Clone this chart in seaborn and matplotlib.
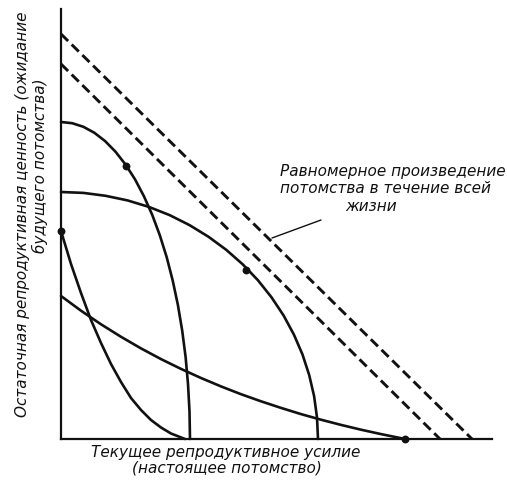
import matplotlib
matplotlib.use("Agg")
import matplotlib.pyplot as plt
import seaborn as sns
import pandas as pd

# ---- data (x = current effort, y = residual value) ----
curve_a_x = [0, 1.12, 2.24, 3.34, 4.41, 5.45, 6.45, 7.40, 8.29, 9.12, 9.88, 10.57,
             11.17, 11.69, 12.12, 12.46, 12.70, 12.85, 12.90]
curve_a_y = [31.70, 31.58, 31.22, 30.62, 29.79, 28.73, 27.45, 25.97, 24.28, 22.42,
             20.38, 18.18, 15.85, 13.40, 10.84, 8.20, 5.50, 2.76, 0]

curve_b_x = [0, 2.24, 4.46, 6.65, 8.79, 10.86, 12.85, 14.74, 16.52, 18.17, 19.69,
             21.05, 22.26, 23.29, 24.15, 24.82, 25.31, 25.60, 25.70]
curve_b_y = [24.70, 24.61, 24.32, 23.86, 23.21, 22.39, 21.39, 20.23, 18.92, 17.47,
             15.88, 14.17, 12.35, 10.44, 8.45, 6.39, 4.29, 2.15, 0]

curve_c_x = [0, 1, 2, 3, 4, 5, 6, 7, 8, 9, 10, 11, 12.4]
curve_c_y = [20.8, 17.5, 14.6, 11.9, 9.6, 7.5, 5.7, 4.1, 2.9, 1.9, 1.15, 0.55, 0]

curve_d_x = [0, 2, 4, 6, 8, 10, 12, 14, 16, 18, 20, 22, 24, 26, 28, 30, 32, 34.4]
curve_d_y = [14.30, 12.83, 11.47, 10.22, 9.06, 7.99, 7.01, 6.10, 5.26, 4.48, 3.77,
             3.11, 2.49, 1.93, 1.41, 0.93, 0.49, 0]

even_hi_x = [0, 41.1]
even_hi_y = [40.5, 0]
even_lo_x = [0, 37.9]
even_lo_y = [37.5, 0]

dots_x = [6.5, 18.5, 0, 34.4]
dots_y = [27.3, 16.9, 20.8, 0]

leader_x = [21.1, 26.0]
leader_y = [20.1, 21.9]

note_lines = ["Равномерное произведение", "потомства в течение всей", "жизни"]
xlabel_lines = ["Текущее репродуктивное усилие", "(настоящее потомство)"]
ylabel_lines = ["Остаточная репродуктивная ценность (ожидание", "будущего потомства)"]

# ---- drawing ----
sns.set_style("white")
plt.rcParams["font.family"] = ["DejaVu Sans"]
plt.rcParams["lines.scale_dashes"] = False

ink = "#111111"
fig = plt.figure(figsize=(5.07, 4.85), dpi=100)
ax = fig.add_axes([61 / 507, 45 / 485, 431 / 507, 430 / 485])

solid = [(curve_a_x, curve_a_y), (curve_b_x, curve_b_y),
         (curve_c_x, curve_c_y), (curve_d_x, curve_d_y)]
for xs, ys in solid:
    df = pd.DataFrame({"x": xs, "y": ys})
    sns.lineplot(data=df, x="x", y="y", ax=ax, color=ink, lw=1.9,
                 sort=False, estimator=None, clip_on=False)

for xs, ys in [(even_hi_x, even_hi_y), (even_lo_x, even_lo_y)]:
    df = pd.DataFrame({"x": xs, "y": ys})
    sns.lineplot(data=df, x="x", y="y", ax=ax, color=ink, lw=2.1,
                 sort=False, estimator=None, dashes=False, clip_on=False)
    ax.lines[-1].set_dashes((7.2, 3.6))

sns.scatterplot(x=dots_x, y=dots_y, ax=ax, color=ink, s=32, edgecolor=ink,
                linewidth=0, clip_on=False, zorder=5)

ax.plot(leader_x, leader_y, color=ink, lw=1.0)

ax.set_xlim(0, 43.1)
ax.set_ylim(0, 43.0)
ax.set_xticks([])
ax.set_yticks([])
ax.set_xlabel("")
ax.set_ylabel("")
for s in ["top", "right"]:
    ax.spines[s].set_visible(False)
for s in ["left", "bottom"]:
    ax.spines[s].set_color(ink)
    ax.spines[s].set_linewidth(1.6)

fs = 11
tkw = dict(fontsize=fs, style="italic", color=ink)
ax.text(21.9, 26.4, note_lines[0], ha="left", va="baseline", **tkw)
ax.text(21.9, 24.7, note_lines[1], ha="left", va="baseline", **tkw)
ax.text(28.4, 22.9, note_lines[2], ha="left", va="baseline", **tkw)

ax.text(16.5, -1.7, xlabel_lines[0], ha="center", va="baseline", **tkw)
ax.text(16.6, -3.3, xlabel_lines[1], ha="center", va="baseline", **tkw)

ax.text(-3.8, 22.6, ylabel_lines[0], ha="center", va="center", rotation=90, **tkw)
ax.text(-2.1, 27.4, ylabel_lines[1], ha="center", va="center", rotation=90, **tkw)

fig.savefig("out.png", dpi=100, facecolor="white")
